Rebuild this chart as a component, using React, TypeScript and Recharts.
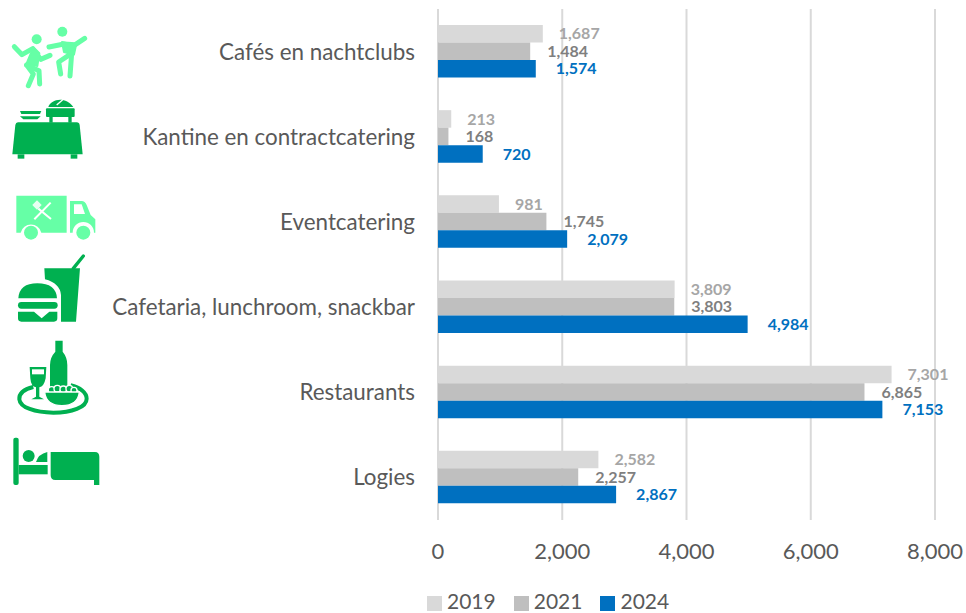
import { BarChart, Bar, XAxis, YAxis, CartesianGrid, Legend, LabelList } from 'recharts';

const categories = [
  'Cafés en nachtclubs',
  'Kantine en contractcatering',
  'Eventcatering',
  'Cafetaria, lunchroom, snackbar',
  'Restaurants',
  'Logies',
];
const values2019 = [1687, 213, 981, 3809, 7301, 2582];
const values2021 = [1484, 168, 1745, 3803, 6865, 2257];
const values2024 = [1574, 720, 2079, 4984, 7153, 2867];
const xTicks = [0, 2000, 4000, 6000, 8000];

const data = categories.map((name, i) => ({
  name,
  y2019: values2019[i],
  y2021: values2021[i],
  y2024: values2024[i],
}));

const formatNumber = (value: number) => value.toLocaleString('en-US');

const LIGHT = '#66FFA6';
const DARK = '#00B050';

// icon coordinates are in 3x space, same as the zoomed crops of the left column
function Icons() {
  return (
    <svg
      width={120}
      height={613}
      style={{ position: 'absolute', left: 0, top: 0, pointerEvents: 'none' }}
    >
      <g transform='translate(0 10) scale(0.3333)'>
        {/* dancers */}
        <g fill='none' stroke={LIGHT} strokeWidth={15} strokeLinecap='round' strokeLinejoin='round'>
          <circle cx={110} cy={88} r={15} fill={LIGHT} stroke='none' />
          <circle cx={187} cy={65} r={15} fill={LIGHT} stroke='none' />
          <path d='M43 110 L66 134 L98 116 L122 148 L150 136' />
          <path d='M100 112 L80 160 L112 168 L118 130 Z' fill={LIGHT} strokeWidth={6} />
          <path d='M80 165 L117 182 L119 222' />
          <path d='M80 165 L100 192 L85 227' />
          <path d='M147 111 L192 102 L226 104 L254 85' />
          <path d='M186 96 L228 106 L222 134 L192 126 Z' fill={LIGHT} strokeWidth={6} />
          <path d='M215 130 L176 156 L182 192' />
          <path d='M215 130 L210 198' />
        </g>
        {/* buffet table */}
        <g fill={DARK}>
          <path d='M60 303 H124 L120 312 H64 Z' />
          <path d='M60 319 H122 L112 328 H70 Z' />
          <path d='M145 291 C150 270 195 255 220 291 Z' />
          <rect x={138} y={295} width={86} height={26} rx={3} />
          <rect x={148} y={320} width={10} height={18} />
          <rect x={205} y={320} width={10} height={18} />
          <path d='M54 337 H230 Q238 337 239 345 L248 433 H37 L46 345 Q47 337 54 337 Z' />
          <rect x={53} y={433} width={20} height={13} />
          <rect x={212} y={433} width={20} height={13} />
        </g>
        <path d='M170 285 L190 268' stroke='#fff' strokeWidth={4} fill='none' />
        {/* truck */}
        <path d='M49 557 H200 V668 H124 A32 32 0 0 0 62 668 H49 Z' fill={LIGHT} />
        <path
          d='M210 573 H245 Q255 573 260 585 L272 615 L286 628 V668 H282 A32 32 0 0 0 218 668 H210 Z'
          fill={LIGHT}
        />
        <path d='M222 583 H245 L255 612 H222 Z' fill='#fff' />
        <circle cx={93} cy={668} r={21} fill={LIGHT} />
        <circle cx={250} cy={668} r={21} fill={LIGHT} />
        <path d='M103 628 L152 578 M115 596 L153 627' stroke='#fff' strokeWidth={6} fill='none' />
        <rect x={101} y={575} width={20} height={20} fill='#fff' opacity={0.85} transform='rotate(45 111 585)' />
      </g>
      <g transform='translate(0 250) scale(0.3333)'>
        {/* burger and drink */}
        <g fill={DARK}>
          <path d='M133 55 H240 L228 215 H183 V135 Q180 100 135 88 Z' />
          <path d='M55 145 Q58 100 112 100 Q168 100 171 145 Z' />
          <rect x={54} y={156} width={119} height={20} rx={10} />
          <path d='M54 185 H102 L125 205 L148 185 H172 V205 Q172 215 162 215 H64 Q54 215 54 205 Z' />
        </g>
        <path d='M220 55 L250 18' stroke={DARK} strokeWidth={10} strokeLinecap='round' fill='none' />
        {/* tray, wine and bowl */}
        <path
          d='M100 411 C70 418 57 432 58 448 C60 472 105 488 160 488 C215 488 260 472 260 446 C260 428 240 412 212 406'
          fill='none'
          stroke={DARK}
          strokeWidth={12}
        />
        <g fill={DARK}>
          <path d='M166 272 H188 V305 Q202 322 202 345 V414 H150 V345 Q150 322 166 305 Z' />
          <path d='M89 351 H139 L137 385 Q132 410 118 412 V440 L132 448 H94 L108 440 V412 Q93 410 91 385 Z' />
        </g>
        <rect x={96} y={358} width={36} height={15} fill='#fff' />
        <g fill={DARK} stroke='#fff' strokeWidth={4}>
          <circle cx={155} cy={420} r={10} />
          <circle cx={172} cy={416} r={10} />
          <circle cx={190} cy={418} r={10} />
          <circle cx={208} cy={416} r={10} />
          <circle cx={222} cy={421} r={9} />
          <path d='M134 426 H238 Q234 466 186 467 Q138 466 134 426 Z' />
        </g>
        {/* bed */}
        <g fill={DARK}>
          <rect x={40} y={563} width={16} height={142} rx={6} />
          <rect x={56} y={645} width={87} height={28} />
          <circle cx={86} cy={618} r={18} />
          <path d='M108 636 Q115 612 142 606 V636 Z' />
          <path d='M152 606 H285 Q298 606 298 620 V705 H282 V690 H166 Q152 690 152 676 Z' />
        </g>
      </g>
    </svg>
  );
}

export default function App() {
  return (
    <div style={{ position: 'absolute', left: 0, top: 0, width: 966, height: 613, overflow: 'hidden' }}>
      <BarChart
        width={966}
        height={613}
        data={data}
        layout='vertical'
        barSize={17.5}
        barGap={0}
        margin={{ top: 9, right: 31, bottom: 12, left: 0 }}
        style={{ fontFamily: 'Lato' }}
      >
        <CartesianGrid horizontal={false} stroke='#D9D9D9' strokeWidth={2} />
        <XAxis
          type='number'
          domain={[0, 8000]}
          ticks={xTicks}
          tickFormatter={formatNumber}
          axisLine={false}
          tickLine={false}
          tickMargin={17}
          height={61}
          tick={{ fill: '#595959', fontSize: 22 }}
        />
        <YAxis
          type='category'
          dataKey='name'
          width={438}
          axisLine={false}
          tickLine={false}
          tickMargin={17}
          interval={0}
          tick={{ fill: '#595959', fontSize: 22.4 }}
        />
        <Legend
          verticalAlign='bottom'
          align='left'
          iconType='square'
          iconSize={15}
          wrapperStyle={{ left: 427, bottom: 0, width: 300, height: 20, fontSize: 21, lineHeight: '16px' }}
          formatter={(value) => (
            <span
              style={{
                display: 'inline-block',
                height: 16,
                lineHeight: '16px',
                color: '#595959',
                marginLeft: 1,
                marginRight: 8,
              }}
            >
              {value}
            </span>
          )}
        />
        <Bar dataKey='y2019' name='2019' fill='#D9D9D9' isAnimationActive={false}>
          <LabelList
            dataKey='y2019'
            position='right'
            offset={16}
            formatter={formatNumber}
            fill='#A6A6A6'
            fontSize={16}
            fontWeight={700}
          />
        </Bar>
        <Bar dataKey='y2021' name='2021' fill='#BFBFBF' isAnimationActive={false}>
          <LabelList
            dataKey='y2021'
            position='right'
            offset={17}
            formatter={formatNumber}
            fill='#7F7F7F'
            fontSize={16}
            fontWeight={700}
          />
        </Bar>
        <Bar dataKey='y2024' name='2024' fill='#0070C0' isAnimationActive={false}>
          <LabelList
            dataKey='y2024'
            position='right'
            offset={20}
            formatter={formatNumber}
            fill='#0070C0'
            fontSize={16}
            fontWeight={700}
          />
        </Bar>
      </BarChart>
      <Icons />
    </div>
  );
}
